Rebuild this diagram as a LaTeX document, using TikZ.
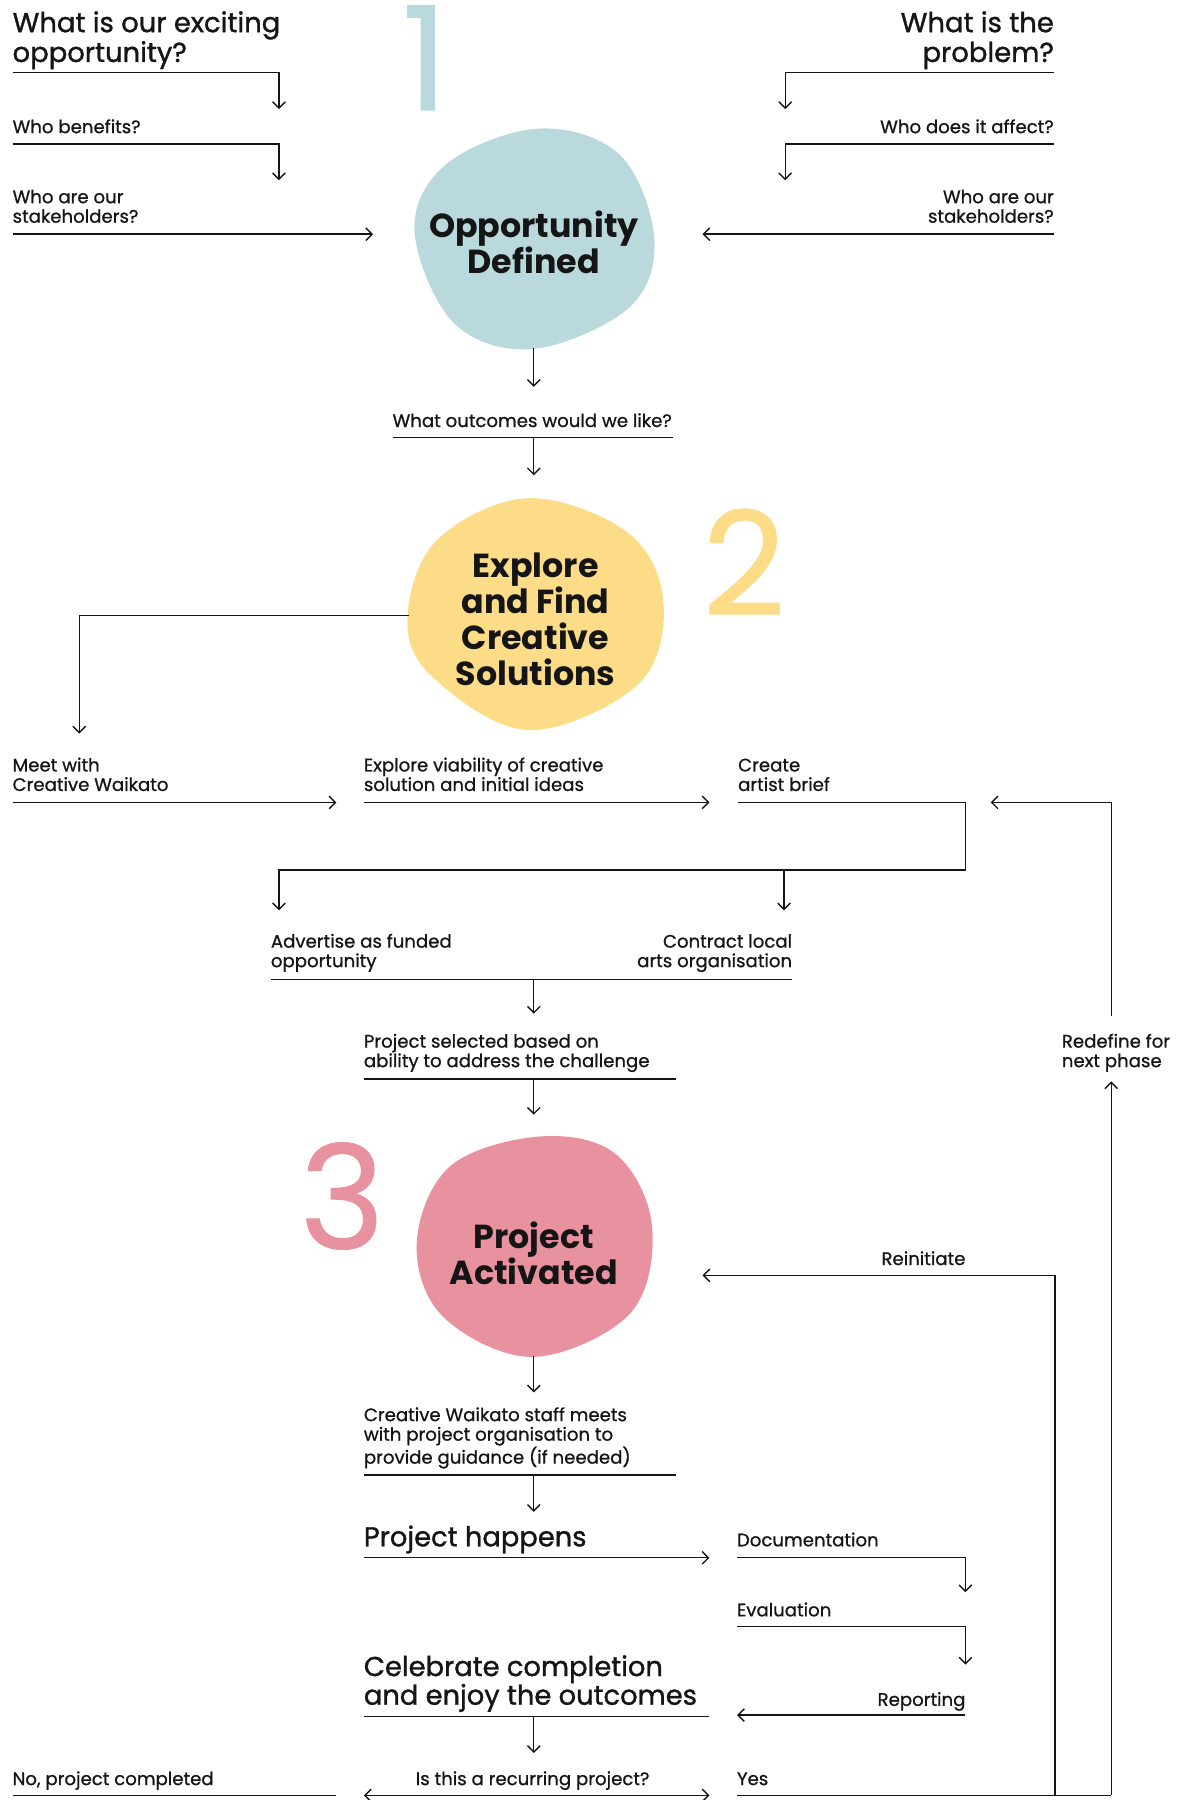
\documentclass[tikz,border=0pt]{standalone}
\usepackage{fontspec}
\setmainfont{Poppins}
\newfontfamily\pmed{Poppins}[FakeBold=0.8]
\newfontfamily\psemi{Poppins}[FakeBold=1.2]
\newfontfamily\pnum{Poppins}[FakeBold=0.6]
\usetikzlibrary{arrows.meta}
\definecolor{cteal}{HTML}{BAD9DC}
\definecolor{cyellow}{HTML}{FDDC87}
\definecolor{cpink}{HTML}{E9929F}
\definecolor{ink}{HTML}{151515}
\tikzset{
  lbl/.style={inner sep=0pt, outer sep=0pt, text=ink, font=\pmed\fontsize{15.8}{17}\selectfont},
  ttl/.style={inner sep=0pt, outer sep=0pt, text=ink, font=\psemi\fontsize{23.9}{26}\selectfont},
  big/.style={inner sep=0pt, outer sep=0pt, text=ink, font=\psemi\fontsize{23.8}{25}\selectfont},
  blobtxt/.style={inner sep=0pt, outer sep=0pt, text=ink, align=center, font=\bfseries\fontsize{29}{31.3}\selectfont},
  num/.style={inner sep=0pt, outer sep=0pt, font=\pnum\fontsize{126}{126}\selectfont},
  ln/.style={line width=1.2pt, draw=ink},
  conn/.style={ln, -{Straight Barb[length=5.5pt,width=11pt]}},
  conn2/.style={ln, {Straight Barb[length=5.5pt,width=11pt]}-{Straight Barb[length=5.5pt,width=11pt]}},
}
\begin{document}
\begin{tikzpicture}[x=1pt,y=-1pt]
\useasboundingbox[fill=white] (0,0) rectangle (1033,1568);

% ---- blobs
\fill[cteal] plot[smooth cycle, tension=0.6] coordinates {(470,112) (540,135) (570,208) (548,268) (464,304) (395,281) (361,200) (390,142)};
\fill[cyellow] plot[smooth cycle, tension=0.6] coordinates {(460,434) (547,464) (578,525) (556,596) (460,636) (376,589) (355,537) (381,470)};
\fill[cpink] plot[smooth cycle, tension=0.6] coordinates {(470,990) (536,1005) (568,1068) (549,1144) (464,1182) (386,1147) (363,1083) (392,1016)};

% ---- big numbers
\node[num, text=cteal, anchor=base west] (n1) at (350,96) {1};
\node[num, text=cyellow, anchor=base west] (n2) at (612,536) {2};
\node[num, text=cpink, anchor=base west] (n3) at (261,1088) {3};

% ---- blob labels (anchor = baseline of last line)
\node[blobtxt, anchor=base] (b1) at (465,238) {Opportunity\\Defined};
\node[blobtxt, anchor=base] (b2) at (466.5,597) {Explore\\and Find\\Creative\\Solutions};
\node[blobtxt, anchor=base] (b3) at (465,1119) {Project\\Activated};

% ---- top left
\node[ttl, anchor=base west, align=left] (q1) at (11,54) {What is our exciting\\opportunity?};
\node[lbl, anchor=base west] (q2) at (11,116) {Who benefits?};
\node[lbl, anchor=base west, align=left] (q3) at (11,194) {Who are our\\stakeholders?};
% ---- top right
\node[ttl, anchor=base east, align=right] (p1) at (918,54) {What is the\\problem?};
\node[lbl, anchor=base east] (p2) at (918,116) {Who does it affect?};
\node[lbl, anchor=base east, align=right] (p3) at (918,194) {Who are our\\stakeholders?};

\node[lbl, anchor=base west] (out) at (342,372) {What outcomes would we like?};

\node[lbl, anchor=base west, align=left] (meet) at (11,689) {Meet with\\Creative Waikato};
\node[lbl, anchor=base west, align=left] (viab) at (317,689) {Explore viability of creative\\solution and initial ideas};
\node[lbl, anchor=base west, align=left] (brief) at (643,689) {Create\\artist brief};
\node[lbl, anchor=base west, align=left] (adv) at (236,842.5) {Advertise as funded\\opportunity};
\node[lbl, anchor=base east, align=right] (contr) at (690,842.5) {Contract local\\arts organisation};
\node[lbl, anchor=base west, align=left] (sel) at (317,929.6) {Project selected based on\\ability to address the challenge};
\node[lbl, anchor=base west, align=left] (redef) at (925,929.6) {Redefine for\\next phase};
\node[lbl, anchor=base east] (reinit) at (841,1102) {Reinitiate};
\node[lbl, anchor=base west, align=left] (staff) at (317,1275) {Creative Waikato staff meets\\with project organisation to\\provide guidance (if needed)};
\node[big, anchor=base west] (happ) at (317,1347) {Project happens};
\node[lbl, anchor=base west] (doc) at (642,1347) {Documentation};
\node[lbl, anchor=base west] (eval) at (642,1408) {Evaluation};
\node[big, anchor=base west, align=left] (cel) at (317,1485) {Celebrate completion\\and enjoy the outcomes};
\node[lbl, anchor=base east] (rep) at (841,1486) {Reporting};
\node[lbl, anchor=base west] (no) at (11,1555) {No, project completed};
\node[lbl, anchor=base] (rec) at (464,1555) {Is this a recurring project?};
\node[lbl, anchor=base west] (yes) at (642,1555) {Yes};

% ---- coordinates
\coordinate (a1) at (11,63);   \coordinate (a1e) at (243,95);
\coordinate (a2) at (11,125.5);\coordinate (a2e) at (243,157);
\coordinate (a3) at (11,204);  \coordinate (a3e) at (325,204);
\coordinate (r1) at (918,63);  \coordinate (r1e) at (684,95);
\coordinate (r2) at (918,125.5);\coordinate (r2e) at (684,157);
\coordinate (r3) at (918,204); \coordinate (r3e) at (612,204);
\coordinate (b1s) at (465,303); \coordinate (b1e) at (465,337);
\coordinate (o1) at (342,381); \coordinate (o2) at (586,381);
\coordinate (o3) at (465,381); \coordinate (o3e) at (465,414);
\coordinate (b2l) at (356,536); \coordinate (b2e) at (69,639);
\coordinate (m1) at (11,699);  \coordinate (m1e) at (293,699);
\coordinate (v1) at (317,699); \coordinate (v1e) at (618,699);
\coordinate (c1) at (643,699); \coordinate (c2) at (841,699); \coordinate (c3) at (841,758);
\coordinate (c4) at (243,758); \coordinate (c4e) at (243,793);
\coordinate (c5) at (683,758); \coordinate (c5e) at (683,793);
\coordinate (d1) at (236,853); \coordinate (d2) at (690,853);
\coordinate (d3) at (465,853); \coordinate (d3e) at (465,883);
\coordinate (s1) at (317,940); \coordinate (s2) at (589,940);
\coordinate (s3) at (465,940); \coordinate (s3e) at (465,971);
\coordinate (rd1) at (968,885); \coordinate (rd2) at (968,699); \coordinate (rd2e) at (863,699);
\coordinate (rd3) at (968,1564); \coordinate (rd3e) at (968,942);
\coordinate (b3s) at (465,1181); \coordinate (b3e) at (465,1213);
\coordinate (g1) at (317,1285); \coordinate (g2) at (589,1285);
\coordinate (g3) at (465,1285); \coordinate (g3e) at (465,1317);
\coordinate (h1) at (317,1357); \coordinate (h1e) at (618,1357);
\coordinate (dc1) at (642,1357); \coordinate (dc2) at (841,1387);
\coordinate (ev1) at (642,1417); \coordinate (ev2) at (841,1450);
\coordinate (rp1) at (841,1494); \coordinate (rp1e) at (642,1494);
\coordinate (ce1) at (317,1495); \coordinate (ce2) at (618,1495);
\coordinate (ce3) at (465,1495); \coordinate (ce3e) at (465,1527);
\coordinate (is1) at (317,1564); \coordinate (is2) at (618,1564);
\coordinate (no1) at (11,1564); \coordinate (no2) at (293,1564);
\coordinate (ys1) at (642,1564);
\coordinate (ri1) at (919,1564); \coordinate (ri2) at (919,1111); \coordinate (ri2e) at (612,1111);

% ---- connectors
\draw[conn] (a1) -| (a1e);
\draw[conn] (a2) -| (a2e);
\draw[conn] (a3) -- (a3e);
\draw[conn] (r1) -| (r1e);
\draw[conn] (r2) -| (r2e);
\draw[conn] (r3) -- (r3e);
\draw[conn] (b1s) -- (b1e);
\draw[ln] (o1) -- (o2);
\draw[conn] (o3) -- (o3e);
\draw[conn] (b2l) -| (b2e);
\draw[conn] (m1) -- (m1e);
\draw[conn] (v1) -- (v1e);
\draw[conn] (c1) -- (c2) -- (c3) -- (c4) -- (c4e);
\draw[conn] (c5) -- (c5e);
\draw[ln] (d1) -- (d2);
\draw[conn] (d3) -- (d3e);
\draw[ln] (s1) -- (s2);
\draw[conn] (s3) -- (s3e);
\draw[conn] (rd1) -- (rd2) -- (rd2e);
\draw[conn] (rd3) -- (rd3e);
\draw[conn] (b3s) -- (b3e);
\draw[ln] (g1) -- (g2);
\draw[conn] (g3) -- (g3e);
\draw[conn] (h1) -- (h1e);
\draw[conn] (dc1) -| (dc2);
\draw[conn] (ev1) -| (ev2);
\draw[conn] (rp1) -- (rp1e);
\draw[ln] (ce1) -- (ce2);
\draw[conn] (ce3) -- (ce3e);
\draw[conn2] (is1) -- (is2);
\draw[ln] (no1) -- (no2);
\draw[ln] (ys1) -- (rd3);
\draw[conn] (ri1) -- (ri2) -- (ri2e);
\end{tikzpicture}
\end{document}
